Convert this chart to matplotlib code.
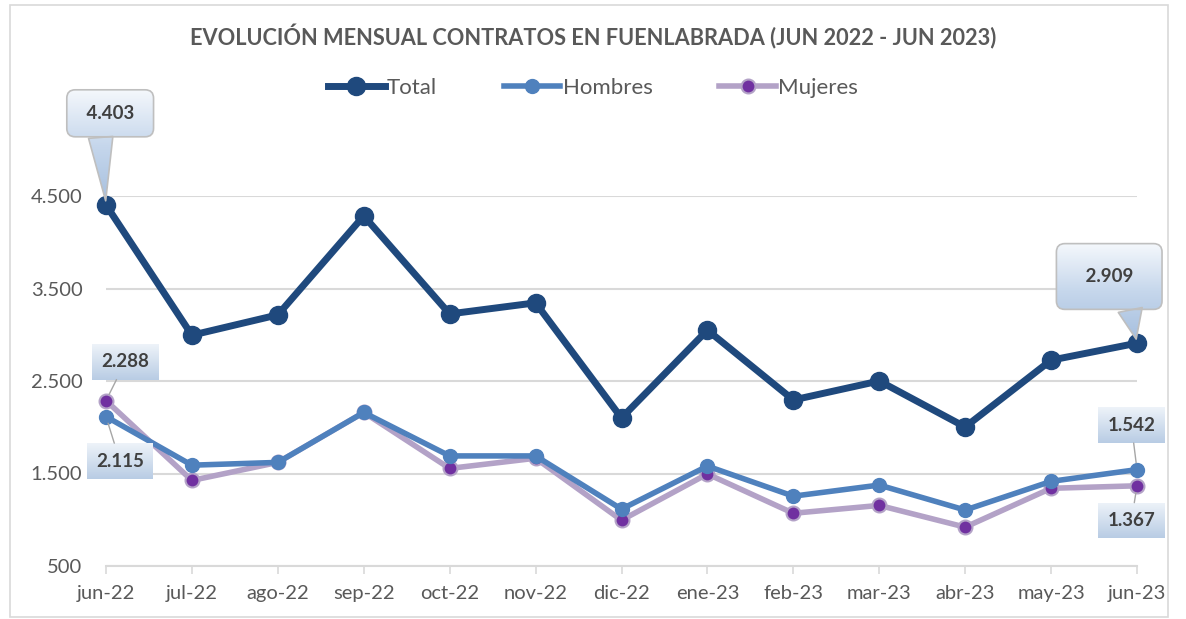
import numpy as np
import matplotlib.pyplot as plt
from matplotlib.patches import Rectangle
from matplotlib.path import Path
from matplotlib.transforms import IdentityTransform
from matplotlib.colors import LinearSegmentedColormap

# Datos (contratos mensuales, Fuenlabrada)
meses = ["jun-22", "jul-22", "ago-22", "sep-22", "oct-22", "nov-22", "dic-22",
         "ene-23", "feb-23", "mar-23", "abr-23", "may-23", "jun-23"]
total = [4403, 2995, 3215, 4285, 3225, 3345, 2100, 3050, 2295, 2500, 2003, 2725, 2909]
hombres = [2115, 1590, 1620, 2160, 1690, 1690, 1115, 1580, 1255, 1375, 1105, 1415, 1542]
mujeres = [2288, 1425, 1620, 2160, 1555, 1665, 995, 1495, 1070, 1155, 920, 1340, 1367]

FONT = "Lato"
GRAY = "#595959"

fig = plt.figure(figsize=(11.86, 6.19), dpi=100)
fig.patches.append(Rectangle((10 / 1186, 2 / 619), 1158 / 1186, 612 / 619,
                             transform=fig.transFigure, fill=False,
                             ec="#D9D9D9", lw=1.2))

ax = fig.add_axes([106 / 1186, 1 - 566 / 619, 1031 / 1186, 370 / 619])
x = list(range(len(meses)))

ax.plot(x, mujeres, color="#B3A2C7", lw=4, marker="o", ms=10,
        mfc="#7030A0", mec="#B3A2C7", mew=1.5, label="Mujeres", clip_on=False, zorder=3)
ax.plot(x, hombres, color="#4F81BD", lw=4, marker="o", ms=10,
        mfc="#4F81BD", mec="#4F81BD", label="Hombres", clip_on=False, zorder=4)
ax.plot(x, total, color="#1F497D", lw=5, marker="o", ms=13,
        mfc="#1F497D", mec="#1F497D", label="Total", clip_on=False, zorder=5)

ax.set_xlim(0, 12)
ax.set_ylim(500, 4500)
ax.set_yticks([500, 1500, 2500, 3500, 4500])
ax.set_yticklabels(["500", "1.500", "2.500", "3.500", "4.500"])
ax.set_xticks(x)
ax.set_xticklabels(meses)
ax.grid(axis="y", color="#D9D9D9", lw=1.5)
ax.set_axisbelow(True)
for s in ["top", "right", "left"]:
    ax.spines[s].set_visible(False)
ax.spines["bottom"].set_color("#D9D9D9")
ax.spines["bottom"].set_linewidth(1.5)
ax.tick_params(axis="y", length=0, pad=17, labelsize=14.5, labelcolor=GRAY)
ax.tick_params(axis="x", length=6, color="#D9D9D9", width=1.2, pad=8,
               labelsize=14.5, labelcolor=GRAY)
for lbl in ax.get_xticklabels() + ax.get_yticklabels():
    lbl.set_fontfamily(FONT)

fig.text(0.5, 1 - 37 / 619, "EVOLUCIÓN MENSUAL CONTRATOS EN FUENLABRADA (JUN 2022 - JUN 2023)",
         ha="center", va="center", fontsize=15.7, fontweight="bold", color=GRAY,
         fontfamily=FONT)

handles, labels = ax.get_legend_handles_labels()
order = [2, 1, 0]
fig.legend([handles[i] for i in order], [labels[i] for i in order],
           loc="center", bbox_to_anchor=(0.5, 1 - 88 / 619), ncol=3, frameon=False,
           handlelength=2.55, handletextpad=0.1, columnspacing=3.0,
           prop={"family": FONT, "size": 16}, labelcolor=GRAY)

# Etiquetas de datos
lbl_font = dict(fontsize=13.5, fontweight="bold", color="#404040", fontfamily=FONT,
                ha="center", va="center", annotation_clip=False, zorder=6)


def fmt(v):
    return f"{v:,}".replace(",", ".")


def callout(pad):
    return dict(boxstyle=f"round,pad={pad},rounding_size=0.45", fc="none", ec="#BFBFBF", lw=1.2)


def wedge(rx):
    return dict(arrowstyle="wedge,tail_width=1.3", fc="none", ec="#BFBFBF", lw=1.2,
                shrinkA=0, shrinkB=3, relpos=(rx, 0.5))


label_box = dict(boxstyle="square,pad=0.5", fc="none", ec="none")
leader = dict(arrowstyle="-", color="#A6A6A6", lw=1, shrinkA=0, shrinkB=5)

anns = []
anns.append(ax.annotate(" " + fmt(total[0]) + " ", (0, total[0]), xytext=(3, 66),
                        textcoords="offset points", bbox=callout(0.8), arrowprops=wedge(0.3),
                        **lbl_font))
anns.append(ax.annotate(" " + fmt(total[-1]) + " ", (12, total[-1]), xytext=(-20, 48),
                        textcoords="offset points", bbox=callout(1.3), arrowprops=wedge(0.75),
                        **lbl_font))
anns.append(ax.annotate(fmt(mujeres[0]), (0, mujeres[0]), xytext=(14, 28),
                        textcoords="offset points", bbox=label_box, arrowprops=leader, **lbl_font))
anns.append(ax.annotate(fmt(hombres[0]), (0, hombres[0]), xytext=(10, -32),
                        textcoords="offset points", bbox=label_box, arrowprops=leader, **lbl_font))
anns.append(ax.annotate(fmt(hombres[-1]), (12, hombres[-1]), xytext=(-4, 32),
                        textcoords="offset points", bbox=label_box, arrowprops=leader, **lbl_font))
anns.append(ax.annotate(fmt(mujeres[-1]), (12, mujeres[-1]), xytext=(-4, -25),
                        textcoords="offset points", bbox=label_box, arrowprops=leader, **lbl_font))

# Relleno degradado de las etiquetas (como en Excel)
fig.canvas.draw()
grad_big = LinearSegmentedColormap.from_list("g1", ["#F5F8FC", "#C6D7EC", "#A7C0DF"])
grad_small = LinearSegmentedColormap.from_list("g2", ["#EEF3F9", "#B8CCE4"])
ramp = np.linspace(0, 1, 256).reshape(-1, 1)
for i, ann in enumerate(anns):
    box = ann.get_bbox_patch()
    paths = [box.get_transform().transform_path(box.get_path())]
    if i < 2:
        arr = ann.arrow_patch
        paths.append(arr.get_transform().transform_path(arr.get_path()))
    path = Path.make_compound_path(*paths)
    ext = path.get_extents()
    img = ax.imshow(ramp, cmap=grad_big if i < 2 else grad_small, aspect="auto",
                    extent=(ext.x0, ext.x1, ext.y0, ext.y1), origin="upper",
                    transform=IdentityTransform(), zorder=5.8, interpolation="bilinear")
    img.set_clip_box(fig.bbox)
    img.set_clip_path(path, IdentityTransform())
ax.set_xlim(0, 12)
ax.set_ylim(500, 4500)

fig.savefig("out.png", dpi=100)
